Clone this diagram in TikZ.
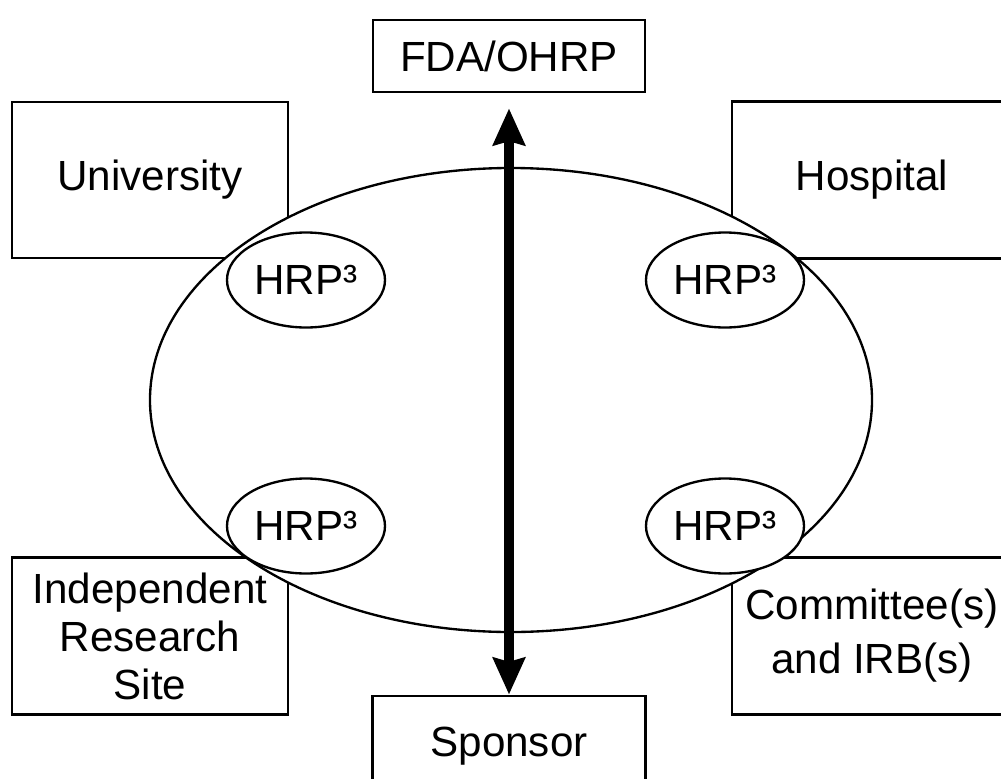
\documentclass[tikz,border=0pt]{standalone}
\usepackage{fontspec}
\setmainfont{Liberation Sans}
\usetikzlibrary{shapes.geometric,arrows.meta}

\tikzset{
  party/.style={draw, line width=2.5pt, fill=white, align=center,
    inner sep=0pt, font=\fontsize{36pt}{41pt}\selectfont},
  ring/.style={draw, ellipse, line width=2pt, fill=white, inner sep=0pt},
  hrp/.style={ring, minimum width=4.74cm, minimum height=2.85cm,
    font=\fontsize{36pt}{41pt}\selectfont},
  twoway/.style={line width=8pt,
    {Stealth[length=1.1cm,width=0.95cm,inset=0.12cm]}-{Stealth[length=1.1cm,width=0.95cm,inset=0.12cm]}}
}

\begin{document}
\begin{tikzpicture}[x=0.03cm,y=-0.03cm]
  \useasboundingbox (0,0) rectangle (1001,778);
  \clip (0,0) rectangle (1001,778);

  % outer parties
  \node[party, minimum width=8.16cm, minimum height=2.16cm] (fda) at (509,56) {FDA/OHRP};
  \node[party, minimum width=8.28cm, minimum height=4.68cm] (univ) at (150,180) {University};
  \node[party, minimum width=8.4cm, minimum height=4.71cm] (hosp) at (872,180) {Hospital};
  \node[party, minimum width=8.28cm, minimum height=4.71cm] (site) at (150,636)
    {Independent\\Research\\Site};
  \node[party, minimum width=8.4cm, minimum height=4.71cm,
    font=\fontsize{36pt}{46pt}\selectfont] (comm) at (872,636)
    {Committee(s)\\and IRB(s)};
  \node[party, minimum width=8.19cm, minimum height=3cm] (sponsor) at (509,746) {Sponsor};

  % shared network in the middle
  \node[ring, minimum width=21.66cm, minimum height=13.92cm] (net) at (511,400) {};

  % one HRP³ per party
  \node[hrp] (hrpA) at (306,280) {HRP³};
  \node[hrp] (hrpB) at (725,280) {HRP³};
  \node[hrp] (hrpC) at (306,526) {HRP³};
  \node[hrp] (hrpD) at (725,526) {HRP³};

  \draw[twoway, shorten <=0.45cm] (fda.south) -- (sponsor.north);
\end{tikzpicture}
\end{document}
